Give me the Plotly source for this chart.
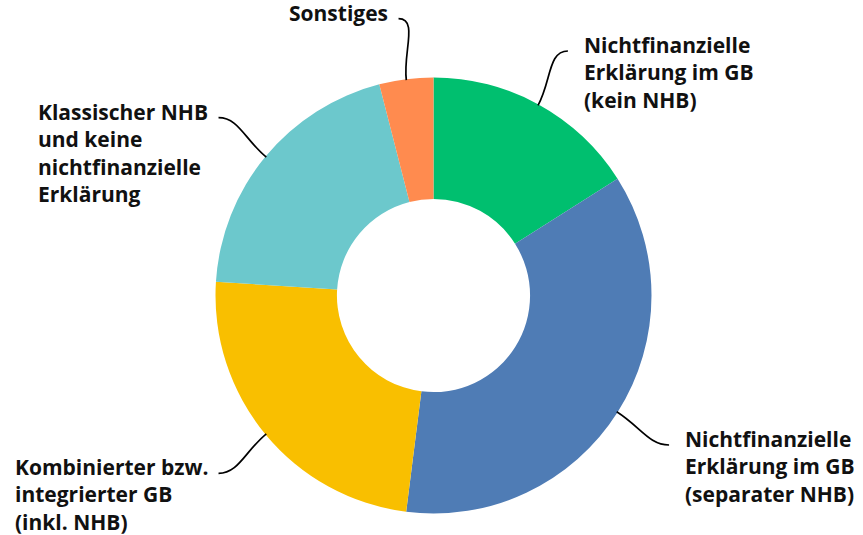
import math
import plotly.graph_objects as go

categories = [
    "Nichtfinanzielle<br>Erklärung im GB<br>(kein NHB)",
    "Nichtfinanzielle<br>Erklärung im GB<br>(separater NHB)",
    "Kombinierter bzw.<br>integrierter GB<br>(inkl. NHB)",
    "Klassischer NHB<br>und keine<br>nichtfinanzielle<br>Erklärung",
    "Sonstiges",
]
values = [16, 36, 24, 20, 4]
colors = ["#00BF6F", "#4F7CB5", "#F9BF00", "#6CC8CC", "#FF8B4F"]

W, H = 863, 535
CX, CY = 433.5, 295.5
R = 218
HOLE = 0.443
R_ANCHOR = 279
FONT = "Open Sans"
FS = 21

fig = go.Figure()
fig.add_trace(go.Pie(
    values=values,
    labels=[c.replace("<br>", " ") for c in categories],
    marker=dict(colors=colors, line=dict(width=0)),
    hole=HOLE,
    sort=False,
    direction="clockwise",
    rotation=0,
    textinfo="none",
    hoverinfo="label+percent",
    showlegend=False,
    domain=dict(x=[(CX - R) / W, (CX + R) / W], y=[(H - CY - R) / H, (H - CY + R) / H]),
))

def px(x):
    return x / W

def py(y):
    return 1 - y / H

total = sum(values)
cum = 0
for cat, v in zip(categories, values):
    mid = (cum + v / 2) / total * 2 * math.pi
    cum += v
    dx, dy = math.sin(mid), -math.cos(mid)
    x0, y0 = CX + (R - 1) * dx, CY + (R - 1) * dy
    x3, y3 = CX + R_ANCHOR * dx, CY + R_ANCHOR * dy
    right = dx > 0
    sgn = 1 if right else -1
    x1, y1 = x0 + 28 * dx, y0 + 28 * dy
    x2, y2 = x3 - sgn * 20, y3
    path = (f"M {px(x0)},{py(y0)} C {px(x1)},{py(y1)} {px(x2)},{py(y2)} {px(x3)},{py(y3)}")
    fig.add_shape(type="path", path=path, xref="paper", yref="paper",
                  line=dict(color="black", width=1.7))
    tx = x3 + (14 if right else -9)
    fig.add_annotation(
        x=px(tx), y=py(y3 - 22), xref="paper", yref="paper",
        text=cat, showarrow=False, align="left",
        xanchor="left" if right else "right", yanchor="top",
        font=dict(family=FONT, size=FS, color="#111111", weight=700),
    )

fig.update_layout(
    width=W, height=H,
    margin=dict(l=0, r=0, t=0, b=0),
    paper_bgcolor="white", plot_bgcolor="white",
)
fig.write_html("out.html", config={"displayModeBar": False},
               post_script="document.body.style.margin='0';")
